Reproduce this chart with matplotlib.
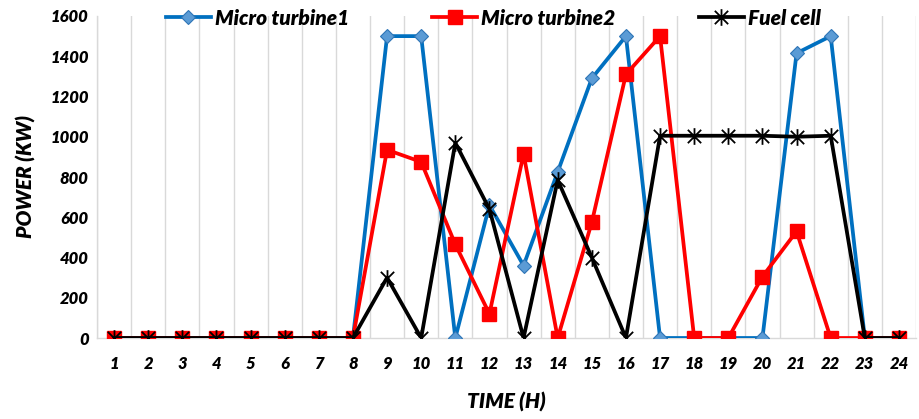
import matplotlib
matplotlib.use("Agg")
import matplotlib.pyplot as plt
from matplotlib.path import Path

hours = list(range(1, 25))
micro_turbine1 = [0, 0, 0, 0, 0, 0, 0, 0, 1500, 1500, 0, 660, 360, 825, 1290, 1500,
                  0, 0, 0, 0, 1415, 1500, 0, 0]
micro_turbine2 = [0, 0, 0, 0, 0, 0, 0, 0, 935, 875, 465, 120, 915, 0, 575, 1310,
                  1500, 0, 0, 305, 530, 0, 0, 0]
fuel_cell = [0, 0, 0, 0, 0, 0, 0, 0, 300, 0, 970, 640, 0, 785, 400, 0,
             1005, 1005, 1005, 1005, 1000, 1005, 0, 0]
y_ticks = [0, 200, 400, 600, 800, 1000, 1200, 1400, 1600]

FONT = "Lato"
WEIGHT = "heavy"
txt = dict(family=FONT, fontweight=WEIGHT, fontstyle="italic")

# star marker: an X with a vertical stroke through it
star = Path(
    [(-1, -1), (1, 1), (-1, 1), (1, -1), (0, -1.25), (0, 1.25)],
    [Path.MOVETO, Path.LINETO, Path.MOVETO, Path.LINETO, Path.MOVETO, Path.LINETO],
)

fig = plt.figure(figsize=(9.19, 4.19), dpi=100)
ax = fig.add_axes([97 / 919, 1 - 338 / 419, 819 / 919, 322 / 419])

ax.plot(hours, micro_turbine1, color="#0070C0", lw=2.7, marker="D", markersize=7.5,
        markerfacecolor="#5B9BD5", markeredgecolor="#2E75B6", markeredgewidth=0.8,
        label="Micro turbine1", zorder=3)
ax.plot(hours, micro_turbine2, color="#FF0000", lw=2.7, marker="s", markersize=10,
        markerfacecolor="#FF0000", markeredgecolor="#FF0000",
        label="Micro turbine2", zorder=4)
ax.plot(hours, fuel_cell, color="#000000", lw=2.7, marker=star, markersize=12,
        markerfacecolor="none", markeredgecolor="#000000", markeredgewidth=1.3,
        label="Fuel cell", zorder=5)

ax.set_xlim(0.5, 24.5)
ax.set_ylim(0, 1600)
ax.set_yticks(y_ticks)
ax.set_xticks(hours)
ax.set_xticklabels([str(h) for h in hours], **txt, fontsize=12)
ax.set_yticklabels([str(v) for v in y_ticks], **txt, fontsize=12)
ax.tick_params(axis="y", length=0, pad=6, colors="#000000")
ax.tick_params(axis="x", length=0, pad=13, colors="#000000")

# vertical gridlines at the category boundaries
for b in range(0, 25):
    ax.axvline(b + 0.5, color="#D9D9D9", lw=1.0, zorder=0)

for side in ["top", "right"]:
    ax.spines[side].set_visible(False)
for side in ["left", "bottom"]:
    ax.spines[side].set_color("#D9D9D9")
    ax.spines[side].set_linewidth(1.0)

ax.set_ylabel("POWER (KW)", **txt, fontsize=15, labelpad=10)
ax.set_xlabel("TIME (H)", **txt, fontsize=15, labelpad=14)

leg = ax.legend(loc="center", bbox_to_anchor=(0.484, 0.993), ncol=3, frameon=False,
                prop=dict(family=FONT, weight=WEIGHT, style="italic", size=15),
                handlelength=2.15, handletextpad=0.2, columnspacing=4.0,
                borderaxespad=0)

fig.savefig("out.png", dpi=100)
